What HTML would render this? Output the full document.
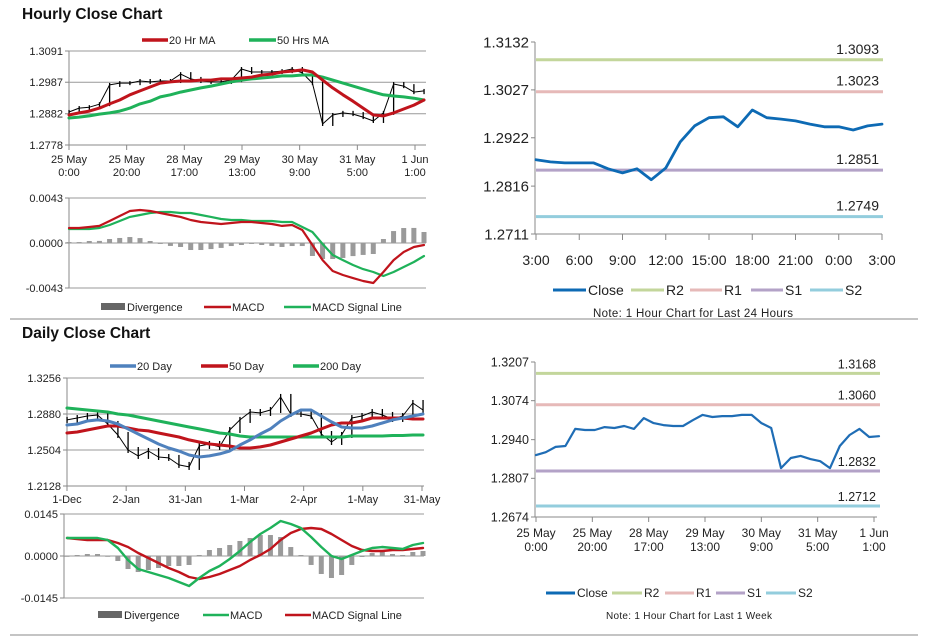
<!DOCTYPE html>
<html><head><meta charset="utf-8">
<style>
html,body{margin:0;padding:0;background:#fff;}
svg{display:block;font-family:"Liberation Sans",Arial,sans-serif;}
</style></head>
<body>
<svg id="root" width="928" height="638" viewBox="0 0 928 638" xmlns="http://www.w3.org/2000/svg">
  <rect x="0" y="0" width="928" height="638" fill="#fff"/>
  <text x="22" y="19" font-size="15.5" font-weight="bold" fill="#111">Hourly Close Chart</text>
  <text x="22" y="338" font-size="15.5" font-weight="bold" fill="#111">Daily Close Chart</text>
  <line x1="10" y1="319" x2="918" y2="319" stroke="#888" stroke-width="1"/>
  <line x1="10" y1="635" x2="918" y2="635" stroke="#888" stroke-width="1"/>

  <g font-size="11" fill="#222">
    <line x1="142" y1="40" x2="168" y2="40" stroke="#c0141c" stroke-width="3.5"/>
    <text x="169" y="44">20 Hr MA</text>
    <line x1="249" y1="40" x2="276" y2="40" stroke="#1fb25a" stroke-width="3.5"/>
    <text x="277" y="44">50 Hrs MA</text>
  </g>
  <g font-size="11" fill="#222">
    <rect x="101" y="303" width="24" height="7" fill="#666"/>
    <text x="127" y="311">Divergence</text>
    <line x1="204" y1="307" x2="231" y2="307" stroke="#c0141c" stroke-width="2.5"/>
    <text x="232" y="311">MACD</text>
    <line x1="284" y1="307" x2="311" y2="307" stroke="#1fb25a" stroke-width="2.5"/>
    <text x="312" y="311">MACD Signal Line</text>
  </g>
  <g font-size="11" fill="#222">
    <line x1="110" y1="366" x2="136" y2="366" stroke="#4f81bd" stroke-width="3.5"/>
    <text x="137" y="370">20 Day</text>
    <line x1="201" y1="366" x2="228" y2="366" stroke="#c0141c" stroke-width="3.5"/>
    <text x="229" y="370">50 Day</text>
    <line x1="293" y1="366" x2="319" y2="366" stroke="#1fb25a" stroke-width="3.5"/>
    <text x="320" y="370">200 Day</text>
  </g>
  <g font-size="11" fill="#222">
    <rect x="98" y="611" width="24" height="7" fill="#666"/>
    <text x="124" y="619">Divergence</text>
    <line x1="203" y1="615" x2="229" y2="615" stroke="#1fb25a" stroke-width="2.5"/>
    <text x="230" y="619">MACD</text>
    <line x1="285" y1="615" x2="311" y2="615" stroke="#c0141c" stroke-width="2.5"/>
    <text x="312" y="619">MACD Signal Line</text>
  </g>
  <g font-size="14" fill="#222">
    <line x1="553" y1="290" x2="586" y2="290" stroke="#0d6ab4" stroke-width="3"/>
    <text x="588" y="295">Close</text>
    <line x1="631" y1="290" x2="664" y2="290" stroke="#c3d69b" stroke-width="3"/>
    <text x="666" y="295">R2</text>
    <line x1="690" y1="290" x2="722" y2="290" stroke="#e6b9b8" stroke-width="3"/>
    <text x="724" y="295">R1</text>
    <line x1="751" y1="290" x2="783" y2="290" stroke="#b3a2c7" stroke-width="3"/>
    <text x="785" y="295">S1</text>
    <line x1="810" y1="290" x2="843" y2="290" stroke="#93cddd" stroke-width="3"/>
    <text x="845" y="295">S2</text>
    <text x="593" y="317" font-size="11.5" textLength="200">Note: 1 Hour Chart for Last 24 Hours</text>
  </g>
  <g font-size="12" fill="#222">
    <line x1="546" y1="593" x2="575" y2="593" stroke="#0d6ab4" stroke-width="3"/>
    <text x="577" y="597">Close</text>
    <line x1="612" y1="593" x2="642" y2="593" stroke="#c3d69b" stroke-width="3"/>
    <text x="644" y="597">R2</text>
    <line x1="665" y1="593" x2="694" y2="593" stroke="#e6b9b8" stroke-width="3"/>
    <text x="696" y="597">R1</text>
    <line x1="716" y1="593" x2="745" y2="593" stroke="#b3a2c7" stroke-width="3"/>
    <text x="747" y="597">S1</text>
    <line x1="766" y1="593" x2="796" y2="593" stroke="#93cddd" stroke-width="3"/>
    <text x="798" y="597">S2</text>
    <text x="606" y="619" font-size="10" textLength="166">Note: 1 Hour Chart for Last 1 Week</text>
  </g>
</svg>
<script>
const hourlyXLabels1 = ["25 May","25 May","28 May","29 May","30 May","31 May","1 Jun"];
const hourlyXLabels2 = ["0:00","20:00","17:00","13:00","9:00","5:00","1:00"];
const hourlyYTicks = ["1.2778","1.2882","1.2987","1.3091"];
const hourlyClose = [1.2888,1.2901,1.2904,1.2914,1.2978,1.2984,1.2984,1.2991,1.2988,1.2991,1.2991,1.3014,1.2998,1.2991,1.2988,1.2988,1.2994,1.3031,1.3021,1.3021,1.3021,1.3024,1.3031,1.3018,1.2984,1.2848,1.2878,1.2885,1.2881,1.2871,1.2858,1.2885,1.2981,1.2974,1.2954,1.2958];
const hourlyMA20 = [1.2878,1.2885,1.2891,1.2901,1.2915,1.2928,1.2945,1.2958,1.2971,1.2984,1.2988,1.2991,1.2991,1.2994,1.2994,1.2998,1.2998,1.3001,1.3004,1.3011,1.3014,1.3021,1.3024,1.3028,1.3021,1.2994,1.2968,1.2945,1.2924,1.2901,1.2878,1.2875,1.2885,1.2898,1.2911,1.2928];
const hourlyMA50 = [1.2868,1.2871,1.2875,1.2881,1.2885,1.2891,1.2901,1.2915,1.2924,1.2938,1.2945,1.2954,1.2961,1.2968,1.2974,1.2981,1.2988,1.2994,1.2998,1.3001,1.3004,1.3008,1.3008,1.3011,1.3011,1.3004,1.2994,1.2984,1.2974,1.2964,1.2954,1.2945,1.2941,1.2938,1.2934,1.2928];
const hourlyMacdTicks = ["-0.0043","0.0000","0.0043"];
const hourlyMacd = [0.00143,0.00143,0.00153,0.00163,0.00210,0.00258,0.00306,0.00315,0.00306,0.00287,0.00268,0.00249,0.00220,0.00201,0.00191,0.00182,0.00191,0.00201,0.00201,0.00191,0.00182,0.00163,0.00172,0.00124,-0.00019,-0.00163,-0.00268,-0.00306,-0.00335,-0.00363,-0.00382,-0.00277,-0.00163,-0.00086,-0.00038,-0.00019];
const hourlySignal = [0.00134,0.00134,0.00134,0.00143,0.00172,0.00210,0.00249,0.00268,0.00287,0.00296,0.00296,0.00287,0.00287,0.00268,0.00249,0.00229,0.00220,0.00220,0.00210,0.00210,0.00210,0.00201,0.00201,0.00153,0.00105,-0.00010,-0.00115,-0.00163,-0.00210,-0.00249,-0.00277,-0.00315,-0.00277,-0.00229,-0.00182,-0.00124];

const dailyXLabels = ["1-Dec","2-Jan","31-Jan","1-Mar","2-Apr","1-May","31-May"];
const dailyYTicks = ["1.2128","1.2504","1.2880","1.3256"];
const dailyClose = [1.2818,1.2838,1.2859,1.2870,1.2776,1.2661,1.2504,1.2442,1.2494,1.2431,1.2421,1.2348,1.2327,1.2546,1.2567,1.2536,1.2713,1.2818,1.2901,1.2891,1.2922,1.3058,1.2880,1.2880,1.2859,1.2671,1.2588,1.2661,1.2838,1.2859,1.2901,1.2870,1.2828,1.2859,1.2995,1.2922];
const daily20 = [1.2765,1.2776,1.2807,1.2818,1.2807,1.2776,1.2724,1.2671,1.2619,1.2567,1.2525,1.2494,1.2452,1.2431,1.2442,1.2463,1.2494,1.2556,1.2609,1.2671,1.2724,1.2807,1.2870,1.2922,1.2922,1.2859,1.2797,1.2744,1.2734,1.2734,1.2755,1.2786,1.2818,1.2838,1.2859,1.2880];
const daily50 = [1.2682,1.2692,1.2713,1.2734,1.2755,1.2755,1.2734,1.2713,1.2703,1.2682,1.2661,1.2640,1.2609,1.2588,1.2567,1.2556,1.2546,1.2525,1.2525,1.2536,1.2556,1.2588,1.2619,1.2650,1.2682,1.2724,1.2765,1.2786,1.2786,1.2807,1.2838,1.2838,1.2838,1.2838,1.2828,1.2828];
const daily200 = [1.2943,1.2932,1.2922,1.2911,1.2901,1.2880,1.2870,1.2849,1.2828,1.2807,1.2786,1.2765,1.2744,1.2724,1.2703,1.2682,1.2671,1.2650,1.2640,1.2640,1.2640,1.2640,1.2640,1.2640,1.2640,1.2640,1.2640,1.2640,1.2650,1.2650,1.2650,1.2650,1.2655,1.2655,1.2661,1.2661];
const dailyMacdTicks = ["-0.0145","0.0000","0.0145"];
const dailyMacd = [0.00621,0.00621,0.00621,0.00621,0.00552,0.00276,-0.00138,-0.00449,-0.00552,-0.00656,-0.00759,-0.00897,-0.01035,-0.00759,-0.00518,-0.00345,-0.00104,0.00173,0.00483,0.00759,0.00966,0.01208,0.01104,0.00966,0.00656,0.00311,0,-0.00104,0.00035,0.00173,0.00276,0.00311,0.00276,0.00242,0.00380,0.00449];
const dailySignal = [0.00621,0.00587,0.00552,0.00552,0.00552,0.00449,0.00311,0.00104,-0.00069,-0.00242,-0.00414,-0.00552,-0.00725,-0.00794,-0.00725,-0.00621,-0.00483,-0.00345,-0.00138,0.00035,0.00242,0.00552,0.00794,0.00932,0.00966,0.00932,0.00759,0.00552,0.00345,0.00207,0.00173,0.00173,0.00207,0.00207,0.00242,0.00276];

const pivotDayXLabels = ["3:00","6:00","9:00","12:00","15:00","18:00","21:00","0:00","3:00"];
const pivotDayYTicks = ["1.2711","1.2816","1.2922","1.3027","1.3132"];
const pivotDayClose = [1.2874,1.2869,1.2867,1.2867,1.2867,1.2854,1.2845,1.2854,1.2830,1.2856,1.2913,1.2948,1.2966,1.2968,1.2946,1.2983,1.2966,1.2963,1.2959,1.2952,1.2946,1.2946,1.2939,1.2948,1.2952];
const pivotDayLevels = [1.3093,1.3023,1.2851,1.2749];
const pivotLevelNames = ["R2","R1","S1","S2"];

const pivotWeekXLabels1 = ["25 May","25 May","28 May","29 May","30 May","31 May","1 Jun"];
const pivotWeekXLabels2 = ["0:00","20:00","17:00","13:00","9:00","5:00","1:00"];
const pivotWeekYTicks = ["1.2674","1.2807","1.2940","1.3074","1.3207"];
const pivotWeekClose = [1.2887,1.2897,1.2915,1.2918,1.2977,1.2973,1.2973,1.2983,1.2980,1.2987,1.2977,1.3014,1.2997,1.2990,1.2987,1.2987,1.3007,1.3025,1.3018,1.3021,1.3021,1.3025,1.3025,1.2997,1.2980,1.2842,1.2877,1.2884,1.2873,1.2866,1.2842,1.2918,1.2956,1.2977,1.2949,1.2952];
const pivotWeekLevels = [1.3168,1.3060,1.2832,1.2712];

const NS = "http://www.w3.org/2000/svg";
const root = document.getElementById("root");
const levelColors = ["#c3d69b","#e6b9b8","#b3a2c7","#93cddd"];

function lin(d0, d1, p0, p1) { return v => p0 + (v - d0) / (d1 - d0) * (p1 - p0); }
function el(tag, attrs, name, parent) {
  const e = document.createElementNS(NS, tag);
  for (const k in attrs) e.setAttribute(k, attrs[k]);
  
  
  (parent || root).appendChild(e);
  return e;
}
function txt(x, y, s, size, anchor, name, parent) {
  const t = el("text", {x: x, y: y, "font-size": size, "text-anchor": anchor || "start", fill: "#222"}, name, parent);
  t.textContent = s;
  return t;
}
function poly(xs, ys, data, color, w, name, parent) {
  const pts = data.map((v, i) => xs(i).toFixed(1) + "," + ys(v).toFixed(1)).join(" ");
  return el("polyline", {points: pts, fill: "none", stroke: color, "stroke-width": w, "stroke-linejoin": "round", "stroke-linecap": "round"}, name, parent);
}
function yAxisGrid(yTicks, ys, x0, x1, size, name, grid) {
  const g = el("g", {}, name);
  el("line", {x1: x0, y1: ys(+yTicks[yTicks.length-1]), x2: x0, y2: ys(+yTicks[0]), stroke: "#888", "stroke-width": 1}, "y-axis-line", g);
  yTicks.forEach(t => {
    const y = ys(+t);
    if (grid) el("line", {x1: x0, y1: y, x2: x1, y2: y, stroke: "#999", "stroke-width": 1}, "gridline", g);
    el("line", {x1: x0 - 4, y1: y, x2: x0, y2: y, stroke: "#888", "stroke-width": 1}, "y-tick", g);
    txt(x0 - 6, y + size * 0.35, t, size, "end", "y-tick-label", g);
  });
  return g;
}
function histogram(xs, ys, a, b, name) {
  const g = el("g", {}, name);
  a.forEach((v, i) => {
    const d = v - b[i];
    const y0 = ys(0), y1 = ys(d);
    el("rect", {x: xs(i) - 2.5, y: Math.min(y0, y1), width: 5, height: Math.max(0.8, Math.abs(y1 - y0)), fill: "#9a9a9a"}, "divergence-bar", g);
  });
}

(function(){
  const xs = lin(0, hourlyClose.length - 1, 69, 424);
  const ys = lin(1.2778, 1.3091, 145, 51);
  yAxisGrid(hourlyYTicks, ys, 69, 426, 11, "hourly-price-y-axis", true);
  const ax = el("g", {}, "hourly-price-x-axis");
  el("line", {x1: 69, y1: 145, x2: 426, y2: 145, stroke: "#888"}, "x-axis-line", ax);
  hourlyXLabels1.forEach((l, k) => {
    const x = 69 + k * (415 - 69) / 6;
    el("line", {x1: x, y1: 145, x2: x, y2: 150, stroke: "#888"}, "x-tick", ax);
    txt(x, 163, l, 11, "middle", "x-tick-label-date", ax);
    txt(x, 176, hourlyXLabels2[k], 11, "middle", "x-tick-label-time", ax);
  });
  const bars = el("g", {}, "hourly-price-bars");
  hourlyClose.forEach((v, i) => {
    const prev = i ? hourlyClose[i - 1] : v;
    const a = ys(Math.max(v, prev)) - 2, b = ys(Math.min(v, prev)) + 2;
    el("rect", {x: xs(i) - 0.6, y: a, width: 1.3, height: b - a, fill: "#000"}, "price-bar", bars);
  });
  poly(xs, ys, hourlyClose, "#000", 1, "hourly-close-line");
  poly(xs, ys, hourlyMA50, "#1fb25a", 3, "hourly-50hr-ma-line");
  poly(xs, ys, hourlyMA20, "#c0141c", 3, "hourly-20hr-ma-line");
})();

(function(){
  const xs = lin(0, hourlyMacd.length - 1, 69, 424);
  const ys = lin(-0.0043, 0.0043, 288, 198);
  yAxisGrid(hourlyMacdTicks, ys, 69, 426, 11, "hourly-macd-y-axis", true);
  histogram(xs, ys, hourlyMacd, hourlySignal, "hourly-divergence");
  poly(xs, ys, hourlySignal, "#1fb25a", 2.2, "hourly-signal-line");
  poly(xs, ys, hourlyMacd, "#c0141c", 2.2, "hourly-macd-line");
})();

(function(){
  const xs = lin(0, dailyClose.length - 1, 67, 423);
  const ys = lin(1.2128, 1.3256, 486, 378);
  yAxisGrid(dailyYTicks, ys, 67, 424, 11, "daily-price-y-axis", true);
  const ax = el("g", {}, "daily-price-x-axis");
  el("line", {x1: 67, y1: 486, x2: 424, y2: 486, stroke: "#888"}, "x-axis-line", ax);
  dailyXLabels.forEach((l, k) => {
    const x = 67 + k * (422 - 67) / 6;
    el("line", {x1: x, y1: 486, x2: x, y2: 491, stroke: "#888"}, "x-tick", ax);
    txt(x, 503, l, 11, "middle", "x-tick-label", ax);
  });
  const bars = el("g", {}, "daily-price-bars");
  dailyClose.forEach((v, i) => {
    const prev = i ? dailyClose[i - 1] : v;
    const a = ys(Math.max(v, prev)) - 3, b = ys(Math.min(v, prev)) + 3;
    el("rect", {x: xs(i) - 0.6, y: a, width: 1.3, height: b - a, fill: "#000"}, "price-bar", bars);
  });
  poly(xs, ys, dailyClose, "#000", 1, "daily-close-line");
  poly(xs, ys, daily200, "#1fb25a", 3, "daily-200-ma-line");
  poly(xs, ys, daily50, "#c0141c", 3, "daily-50-ma-line");
  poly(xs, ys, daily20, "#4f81bd", 3, "daily-20-ma-line");
})();

(function(){
  const xs = lin(0, dailyMacd.length - 1, 67, 423);
  const ys = lin(-0.0145, 0.0145, 598, 514);
  yAxisGrid(dailyMacdTicks, ys, 64, 424, 11, "daily-macd-y-axis", true);
  histogram(xs, ys, dailyMacd, dailySignal, "daily-divergence");
  poly(xs, ys, dailySignal, "#c0141c", 2.4, "daily-signal-line");
  poly(xs, ys, dailyMacd, "#1fb25a", 2.4, "daily-macd-line");
})();

(function(){
  const xs = lin(0, pivotDayClose.length - 1, 536, 882);
  const ys = lin(1.2711, 1.3132, 234, 42);
  yAxisGrid(pivotDayYTicks, ys, 535, 882, 15, "pivot-day-y-axis", false);
  const ax = el("g", {}, "pivot-day-x-axis");
  el("line", {x1: 535, y1: 234, x2: 882, y2: 234, stroke: "#888"}, "x-axis-line", ax);
  pivotDayXLabels.forEach((l, k) => {
    const x = xs(k * 3);
    el("line", {x1: x, y1: 234, x2: x, y2: 240, stroke: "#888"}, "x-tick", ax);
    txt(x, 265, l, 14, "middle", "x-tick-label", ax);
  });
  pivotDayLevels.forEach((v, k) => {
    el("line", {x1: 536, y1: ys(v), x2: 883, y2: ys(v), stroke: levelColors[k], "stroke-width": 3}, "level-" + pivotLevelNames[k].toLowerCase(), root);
    txt(879, ys(v) - 6, v.toFixed(4), 14, "end", "level-label-" + pivotLevelNames[k].toLowerCase());
  });
  poly(xs, ys, pivotDayClose, "#0d6ab4", 2.8, "pivot-day-close-line");
})();

(function(){
  const xs = lin(0, pivotWeekClose.length - 1, 536, 879);
  const ys = lin(1.2674, 1.3207, 517, 362);
  yAxisGrid(pivotWeekYTicks, ys, 535, 878, 12.5, "pivot-week-y-axis", false);
  const ax = el("g", {}, "pivot-week-x-axis");
  el("line", {x1: 535, y1: 517, x2: 877, y2: 517, stroke: "#888"}, "x-axis-line", ax);
  pivotWeekXLabels1.forEach((l, k) => {
    const x = 536 + k * (874 - 536) / 6;
    el("line", {x1: x, y1: 517, x2: x, y2: 522, stroke: "#888"}, "x-tick", ax);
    txt(x, 537, l, 12, "middle", "x-tick-label-date", ax);
    txt(x, 551, pivotWeekXLabels2[k], 12, "middle", "x-tick-label-time", ax);
  });
  pivotWeekLevels.forEach((v, k) => {
    el("line", {x1: 536, y1: ys(v), x2: 880, y2: ys(v), stroke: levelColors[k], "stroke-width": 3}, "week-level-" + pivotLevelNames[k].toLowerCase(), root);
    txt(876, ys(v) - 5, v.toFixed(4), 12.5, "end", "week-level-label-" + pivotLevelNames[k].toLowerCase());
  });
  poly(xs, ys, pivotWeekClose, "#1f6db5", 2.2, "pivot-week-close-line");
})();
</script>
</body></html>
